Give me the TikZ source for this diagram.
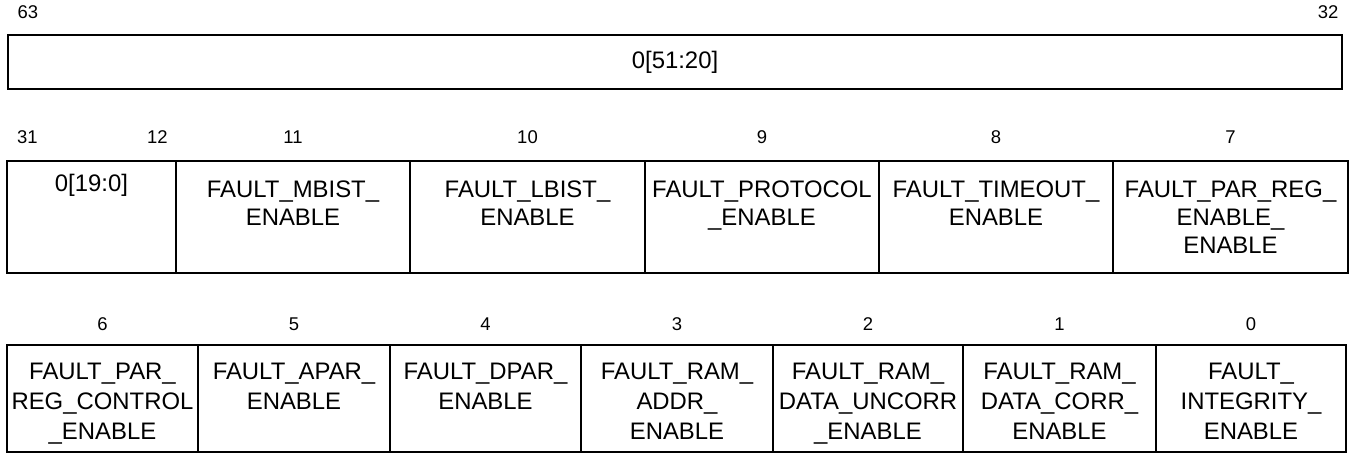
\documentclass[tikz,border=0pt]{standalone}
\usepackage{fontspec}
\setmainfont{Liberation Sans}
\begin{document}
\begin{tikzpicture}[x=0.02cm, y=-0.02cm]
    \tikzset{
        thinbox/.style={draw, line width=0.6pt},
        thickbox/.style={draw, line width=1.3pt},
        bitnum/.style={font=\fontsize{10.5}{12}\selectfont, inner sep=0pt, anchor=base},
        fieldtext/.style={font=\fontsize{13.6}{#1}\selectfont, align=center, inner sep=0pt, anchor=north},
        fieldtext/.default=16.2
    }
    \useasboundingbox (0,0) rectangle (1350,454);
    % bits 63 to 32
    \draw[thinbox] (8,35) rectangle (1342,89);
    \node[bitnum] (b63) at (28,18) {63};
    \node[bitnum] (b32) at (1328,18) {32};
    \node[fieldtext, anchor=center] (res63) at (675,62.5) {0[51:20]};
    % bits 31 to 7
    \draw[thinbox] (7,161) rectangle (176,273);
    \node[bitnum] (b31) at (27.5,143.5) {31};
    \node[bitnum] (b12) at (157.5,143.5) {12};
    \node[fieldtext] (res31) at (91.5,174) {0[19:0]};
    \foreach \xl/\xr/\bit/\txt/\sty in {
        1113/1348/7/{FAULT\_PAR\_REG\_\\ENABLE\_\\ENABLE}/thinbox,
        176/410/11/{FAULT\_MBIST\_\\ENABLE}/thickbox,
        410/645/10/{FAULT\_LBIST\_\\ENABLE}/thickbox,
        645/879/9/{FAULT\_PROTOCOL\\\_ENABLE}/thickbox,
        879/1113/8/{FAULT\_TIMEOUT\_\\ENABLE}/thickbox}
    {
        \draw[\sty] (\xl,161) rectangle (\xr,273);
        \node[bitnum] (b\bit) at ({(\xl+\xr)/2},143.5) {\bit};
        \node[fieldtext] (f\bit) at ({(\xl+\xr)/2},180) {\txt};
    }
    % bits 6 to 0
    \foreach \xl/\xr/\bit/\txt in {
        7/198/6/{FAULT\_PAR\_\\REG\_CONTROL\\\_ENABLE},
        198/390/5/{FAULT\_APAR\_\\ENABLE},
        390/581/4/{FAULT\_DPAR\_\\ENABLE},
        581/773/3/{FAULT\_RAM\_\\ADDR\_\\ENABLE},
        773/963/2/{FAULT\_RAM\_\\DATA\_UNCORR\\\_ENABLE},
        963/1156/1/{FAULT\_RAM\_\\DATA\_CORR\_\\ENABLE},
        1156/1346/0/{FAULT\_\\INTEGRITY\_\\ENABLE}}
    {
        \draw[thickbox] (\xl,345) rectangle (\xr,452);
        \node[bitnum] (b\bit) at ({(\xl+\xr)/2},330) {\bit};
        \node[fieldtext=17] (f\bit) at ({(\xl+\xr)/2},363) {\txt};
    }
\end{tikzpicture}
\end{document}
